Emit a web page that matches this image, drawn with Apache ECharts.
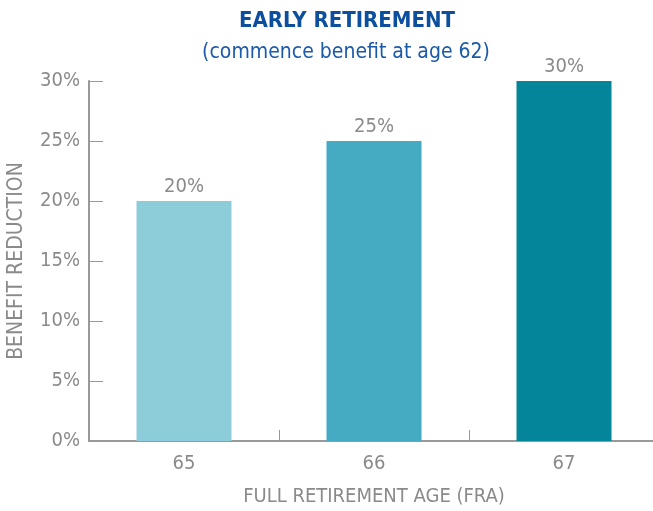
<!DOCTYPE html>
<html>
<head>
<meta charset="utf-8">
<script src="https://cdn.jsdelivr.net/npm/echarts@6/dist/echarts.min.js"></script>
<style>
  html, body { margin: 0; padding: 0; background: #fff; }
  #chart { width: 653px; height: 511px; }
</style>
</head>
<body>
<div id="chart"></div>
<script>
const categories = ['65', '66', '67']
const reductions = [20, 25, 30]
const barColors = ['#8ccdd9', '#45abc3', '#048599']

const labelFont = '"DejaVu Sans Condensed", "Liberation Sans Narrow", sans-serif'
const gray = '#8a8a8a'

const chart = echarts.init(document.getElementById('chart'))
chart.setOption({
    animation: false,
    title: [
        {
            text: 'EARLY RETIREMENT',
            left: 342,
            top: 5,
            textAlign: 'center',
            textStyle: {
                fontFamily: '"Liberation Sans Narrow", "DejaVu Sans Condensed", sans-serif',
                fontWeight: 'bold',
                fontSize: 22,
                color: '#0b4f9e',
            },
        },
        {
            text: '(commence benefit at age 62)',
            left: 341,
            top: 37,
            textAlign: 'center',
            textStyle: {
                fontFamily: labelFont,
                fontWeight: 'normal',
                fontSize: 21,
                color: '#1a5aa8',
            },
        },
    ],
    grid: {
        left: 89,
        right: -6,
        top: 81,
        bottom: 70,
        containLabel: false,
        outerBoundsMode: 'none',
    },
    xAxis: {
        type: 'category',
        data: categories,
        name: 'FULL RETIREMENT AGE (FRA)',
        nameLocation: 'middle',
        nameGap: 46,
        nameTextStyle: { fontFamily: labelFont, fontSize: 20, color: gray },
        axisLine: { lineStyle: { color: '#999', width: 2 } },
        axisTick: { show: true, inside: true, length: 11, lineStyle: { color: '#999' } },
        axisLabel: { fontFamily: labelFont, fontSize: 20, color: gray, margin: 13 },
    },
    yAxis: {
        type: 'value',
        min: 0,
        max: 30,
        interval: 5,
        name: 'BENEFIT REDUCTION',
        nameLocation: 'middle',
        nameGap: 62,
        nameTextStyle: { fontFamily: labelFont, fontSize: 21, color: gray },
        axisLine: { show: true, lineStyle: { color: '#999', width: 2 } },
        axisTick: { show: true, inside: true, length: 14, lineStyle: { color: '#999' } },
        axisLabel: { fontFamily: labelFont, fontSize: 20, color: gray, margin: 9, formatter: '{value}%' },
        splitLine: { show: false },
    },
    series: [
        {
            type: 'bar',
            barWidth: '50%',
            data: reductions.map((v, i) => ({ value: v, itemStyle: { color: barColors[i] } })),
            label: {
                show: true,
                position: 'top',
                distance: 4,
                formatter: '{c}%',
                fontFamily: labelFont,
                fontSize: 20,
                color: gray,
            },
        },
    ],
})
</script>
</body>
</html>
